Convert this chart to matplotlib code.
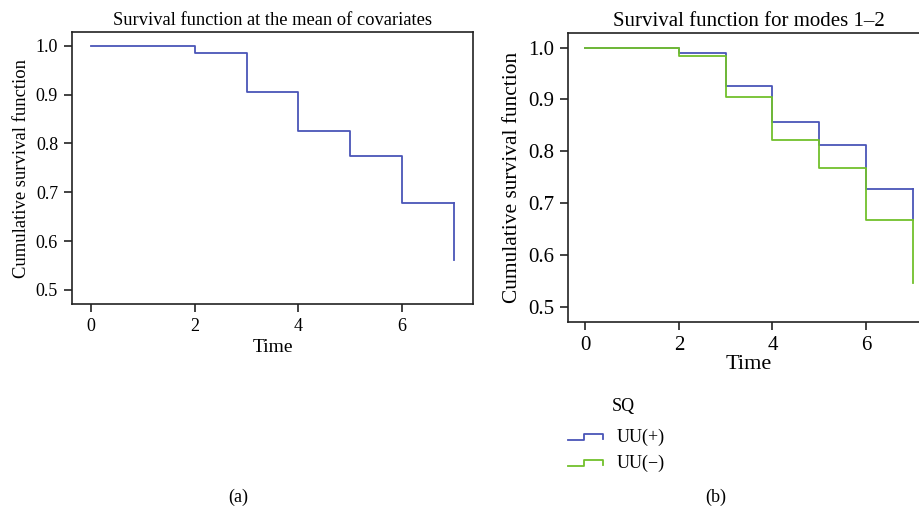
import matplotlib
matplotlib.use("Agg")
import matplotlib.pyplot as plt
from matplotlib.lines import Line2D

plt.rcParams["font.family"] = ["Liberation Serif", "DejaVu Serif"]

# panel (a): survival at the mean of covariates
time_a = [0, 2, 3, 4, 5, 6, 7]
surv_a = [1.0, 0.984, 0.906, 0.825, 0.774, 0.677, 0.561]

# panel (b): survival by group
time_b = [0, 2, 3, 4, 5, 6, 7]
surv_pos = [1.0, 0.989, 0.925, 0.856, 0.812, 0.727, 0.667]
surv_neg = [1.0, 0.984, 0.905, 0.821, 0.768, 0.667, 0.547]
groups = ["UU(+)", "UU(\u2212)"]

BLUE = "#4a55b8"
GREEN = "#72c02c"
INK = "#222222"


def style_axis(ax, fs):
    for s in ax.spines.values():
        s.set_linewidth(1.2)
        s.set_color(INK)
    ax.tick_params(direction="out", length=6, width=1.2, color=INK,
                   labelsize=fs, pad=4)
    ax.set_xticks([0, 2, 4, 6])
    ax.set_yticks([0.5, 0.6, 0.7, 0.8, 0.9, 1.0])
    ax.set_yticklabels(["0.5", "0.6", "0.7", "0.8", "0.9", "1.0"])
    ax.set_xlim(-0.37, 7.37)
    ax.set_ylim(0.471, 1.028)


def steps(ax, t, s, color):
    # step curve, ending with the drop at the last time
    ax.step(t[:-1] + [t[-1]], s[:-1] + [s[-2]], where="post", color=color, lw=1.3)
    ax.plot([t[-1], t[-1]], [s[-2], s[-1]], color=color, lw=1.3)


fig = plt.figure(figsize=(9.2, 5.15), dpi=100)
W, H = 920, 515

# (a)
ax1 = fig.add_axes([72 / W, 1 - 304 / H, (473 - 72) / W, (304 - 32) / H])
steps(ax1, time_a, surv_a, BLUE)
style_axis(ax1, 13)
ax1.set_title("Survival function at the mean of covariates", fontsize=13.3, pad=5)
ax1.set_xlabel("Time", fontsize=14, labelpad=3)
ax1.set_ylabel("Cumulative survival function", fontsize=13.4, labelpad=4)

# (b) - extends past the right edge of the figure
ax2 = fig.add_axes([568 / W, 1 - 322 / H, (930 - 568) / W, (322 - 33) / H])
steps(ax2, time_b, surv_pos, BLUE)
steps(ax2, time_b, surv_neg, GREEN)
style_axis(ax2, 15)
ax2.set_title("Survival function for modes 1\u20132", fontsize=15, pad=5)
ax2.set_xlabel("Time", fontsize=16, labelpad=0)
ax2.set_ylabel("Cumulative survival function", fontsize=15.4, labelpad=4)

# legend drawn as step glyphs
fig.text(612 / W, 1 - 406 / H, "SQ", fontsize=13, ha="left", va="center")
for i, (lab, col) in enumerate(zip(groups, [BLUE, GREEN])):
    y = 437 + i * 26
    yb = 1 - (y + 3) / H
    yt = 1 - (y - 3) / H
    xs = [568 / W, 584 / W, 584 / W, 603 / W, 603 / W]
    ys = [yb, yb, yt, yt, yb + 0.002]
    fig.add_artist(Line2D(xs, ys, color=col, lw=1.3, transform=fig.transFigure))
    fig.text(617 / W, 1 - y / H, lab, fontsize=13, ha="left", va="center")

fig.text(238 / W, 1 - 497 / H, "(a)", fontsize=13, ha="center", va="center")
fig.text(716 / W, 1 - 497 / H, "(b)", fontsize=13, ha="center", va="center")

fig.savefig("out.png", dpi=100)
